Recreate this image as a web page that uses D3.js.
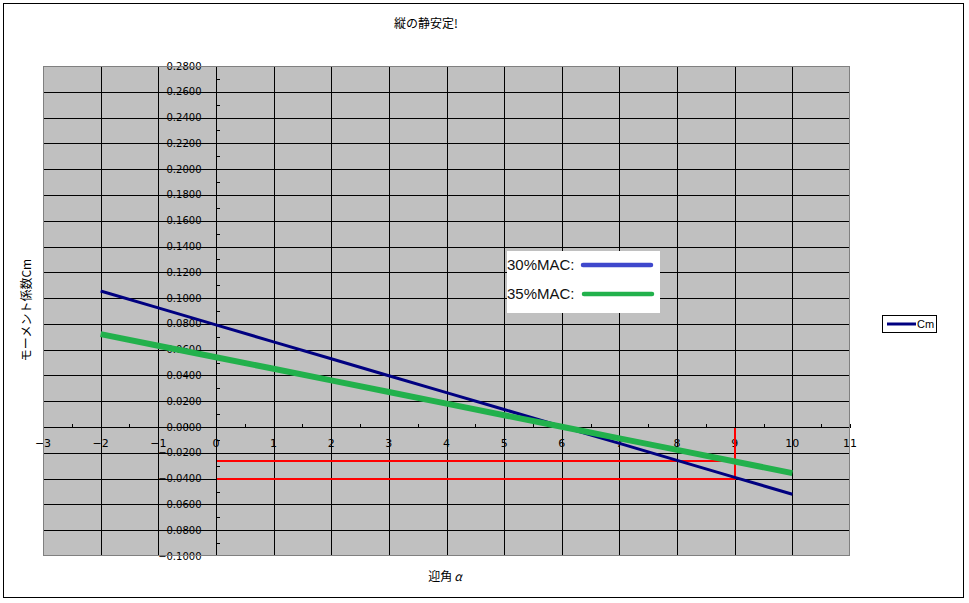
<!DOCTYPE html>
<html>
<head>
<meta charset="utf-8">
<script src="https://cdn.jsdelivr.net/npm/d3@7"></script>
<style>
  body { margin: 0; background: #fff; }
  svg { display: block; }
</style>
</head>
<body>
<script>
// 迎角とモーメント係数
const alpha = [-2, -1, 0, 1, 2, 3, 4, 5, 6, 7, 8, 9, 10];
const cm30 = [0.1055, 0.0924, 0.0792, 0.0661, 0.0530, 0.0398, 0.0267, 0.0136, 0.0004, -0.0127, -0.0258, -0.0390, -0.0521];
const cm35 = [0.0721, 0.0631, 0.0541, 0.0452, 0.0362, 0.0272, 0.0182, 0.0092, 0.0002, -0.0088, -0.0177, -0.0267, -0.0357];

const xTicks = [-3, -2, -1, 0, 1, 2, 3, 4, 5, 6, 7, 8, 9, 10, 11];
const yTicks = [-0.10, -0.08, -0.06, -0.04, -0.02, 0, 0.02, 0.04, 0.06, 0.08, 0.10,
                0.12, 0.14, 0.16, 0.18, 0.20, 0.22, 0.24, 0.26, 0.28];
const xMinor = [-2.5, -1.5, -0.5, 0.5, 1.5, 2.5, 3.5, 4.5, 5.5, 6.5, 7.5, 8.5, 9.5, 10.5];
const yMinor = [-0.09, -0.07, -0.05, -0.03, -0.01, 0.01, 0.03, 0.05, 0.07, 0.09, 0.11,
                0.13, 0.15, 0.17, 0.19, 0.21, 0.23, 0.25, 0.27];

// 赤の補助線: α=9 での30%MAC / 35%MAC のCm
const guideAlpha = 9;
const guideCm30 = -0.0400;
const guideCm35 = -0.0267;

const W = 969, H = 603;
const plot = { left: 43, right: 850, top: 66, bottom: 556 };

const x = d3.scaleLinear().domain([-3, 11]).range([plot.left, plot.right]);
const y = d3.scaleLinear().domain([-0.1, 0.28]).range([plot.bottom, plot.top]);
const px = v => Math.round(v) + 0.5;

const svg = d3.select("body").append("svg")
    .attr("width", W)
    .attr("height", H);

// 外枠
svg.append("rect")
    .attr("x", 3.5).attr("y", 3.5)
    .attr("width", 960).attr("height", 594)
    .attr("fill", "#fff")
    .attr("stroke", "#000");

svg.append("text")
    .attr("x", 426).attr("y", 28)
    .attr("text-anchor", "middle")
    .attr("font-family", "Noto Sans CJK JP")
    .attr("font-size", 12)
    .text("縦の静安定!");

// プロットエリア
svg.append("rect")
    .attr("x", plot.left).attr("y", plot.top)
    .attr("width", plot.right - plot.left)
    .attr("height", plot.bottom - plot.top)
    .attr("fill", "#c0c0c0");

const grid = svg.append("g").attr("stroke", "#000").attr("shape-rendering", "crispEdges");

grid.selectAll(".vg")
  .data(xTicks.slice(1, -1))
  .enter().append("line")
    .attr("x1", d => px(x(d)))
    .attr("x2", d => px(x(d)))
    .attr("y1", plot.top)
    .attr("y2", plot.bottom);

grid.selectAll(".hg")
  .data(yTicks.slice(1, -1))
  .enter().append("line")
    .attr("x1", plot.left)
    .attr("x2", plot.right)
    .attr("y1", d => px(y(d)))
    .attr("y2", d => px(y(d)));

// 軸
const x0 = px(x(0)), y0 = px(y(0));

const axes = svg.append("g").attr("stroke", "#000").attr("shape-rendering", "crispEdges");
axes.append("line").attr("x1", x0).attr("x2", x0).attr("y1", plot.top).attr("y2", plot.bottom);
axes.append("line").attr("x1", plot.left).attr("x2", plot.right).attr("y1", y0).attr("y2", y0);

axes.selectAll(".ym")
  .data(yMinor)
  .enter().append("line")
    .attr("x1", x0).attr("x2", x0 + 3)
    .attr("y1", d => px(y(d)))
    .attr("y2", d => px(y(d)));

axes.selectAll(".xm")
  .data(xMinor.concat([11]))
  .enter().append("line")
    .attr("x1", d => px(x(d)))
    .attr("x2", d => px(x(d)))
    .attr("y1", y0).attr("y2", y0 - 4);

const tickFont = "DejaVu Sans";

svg.append("g")
    .attr("font-family", tickFont)
    .attr("font-size", 10)
    .attr("text-anchor", "end")
  .selectAll("text")
  .data(yTicks)
  .enter().append("text")
    .attr("x", x0 - 15)
    .attr("y", d => y(d))
    .attr("dy", "0.35em")
    .text(d => d3.format(".4f")(d).replace("-", "\u2212"));

svg.append("g")
    .attr("font-family", tickFont)
    .attr("font-size", 11)
    .attr("text-anchor", "middle")
  .selectAll("text")
  .data(xTicks)
  .enter().append("text")
    .attr("x", d => x(d))
    .attr("y", y(0) + 16)
    .attr("dy", "0.35em")
    .text(d => String(d).replace("-", "\u2212"));

// 赤の補助線
const red = svg.append("g")
    .attr("stroke", "#ff0000")
    .attr("fill", "none")
    .attr("shape-rendering", "crispEdges");

red.append("line")
    .attr("x1", px(x(0))).attr("x2", px(x(guideAlpha)))
    .attr("y1", Math.round(y(guideCm35))).attr("y2", Math.round(y(guideCm35)))
    .attr("stroke-width", 2);

red.append("line")
    .attr("x1", px(x(0))).attr("x2", px(x(guideAlpha)))
    .attr("y1", Math.round(y(guideCm30))).attr("y2", Math.round(y(guideCm30)))
    .attr("stroke-width", 2);

red.append("line")
    .attr("x1", Math.round(x(guideAlpha))).attr("x2", Math.round(x(guideAlpha)))
    .attr("y1", y0).attr("y2", Math.round(y(guideCm30)))
    .attr("stroke-width", 2);

// データ
const line = d3.line()
    .x(d => x(d[0]))
    .y(d => y(d[1]));

svg.append("path")
    .datum(d3.zip(alpha, cm30))
    .attr("fill", "none")
    .attr("stroke", "#000080")
    .attr("stroke-width", 3)
    .attr("d", line);

svg.append("path")
    .datum(d3.zip(alpha, cm35))
    .attr("fill", "none")
    .attr("stroke", "#22b14c")
    .attr("stroke-width", 6)
    .attr("d", line);

// 注記ボックス
const note = svg.append("g");
note.append("rect")
    .attr("x", 507).attr("y", 251)
    .attr("width", 153).attr("height", 62)
    .attr("fill", "#fff");

const noteItems = [
  { label: "30%MAC:", color: "#3f48cc", cy: 265 },
  { label: "35%MAC:", color: "#22b14c", cy: 294 }
];

note.selectAll("text")
  .data(noteItems)
  .enter().append("text")
    .attr("x", 507)
    .attr("y", d => d.cy + 5)
    .attr("font-family", "Liberation Sans")
    .attr("font-size", 15)
    .attr("fill", "#111")
    .text(d => d.label);

note.selectAll("line")
  .data(noteItems)
  .enter().append("line")
    .attr("x1", (d, i) => 583 + i)
    .attr("x2", (d, i) => 651 + i)
    .attr("y1", d => d.cy).attr("y2", d => d.cy)
    .attr("stroke", d => d.color)
    .attr("stroke-width", 4.5)
    .attr("stroke-linecap", "round");

// プロット枠
svg.append("rect")
    .attr("x", plot.left + 0.5).attr("y", plot.top + 0.5)
    .attr("width", plot.right - plot.left - 1)
    .attr("height", plot.bottom - plot.top - 1)
    .attr("fill", "none")
    .attr("stroke", "#808080")
    .attr("shape-rendering", "crispEdges");

// 軸タイトル
svg.append("text")
    .attr("transform", "translate(31,310) rotate(-90)")
    .attr("text-anchor", "middle")
    .attr("font-family", "Noto Sans CJK JP")
    .attr("font-size", 12)
    .text("モーメント係数Cm");

const xTitle = svg.append("text")
    .attr("x", 445).attr("y", 581)
    .attr("text-anchor", "middle")
    .attr("font-family", "Noto Sans CJK JP")
    .attr("font-size", 12);
xTitle.append("tspan").text("迎角");
xTitle.append("tspan").attr("font-style", "italic").attr("dx", 2).text("α");

// 凡例
const legend = svg.append("g");
legend.append("rect")
    .attr("x", 882.5).attr("y", 315.5)
    .attr("width", 54).attr("height", 17)
    .attr("fill", "#fff")
    .attr("stroke", "#000");
legend.append("line")
    .attr("x1", 887).attr("x2", 916)
    .attr("y1", 324).attr("y2", 324)
    .attr("stroke", "#000080")
    .attr("stroke-width", 3);
legend.append("text")
    .attr("x", 917).attr("y", 328)
    .attr("font-family", "Liberation Sans")
    .attr("font-size", 11)
    .text("Cm");
</script>
</body>
</html>
